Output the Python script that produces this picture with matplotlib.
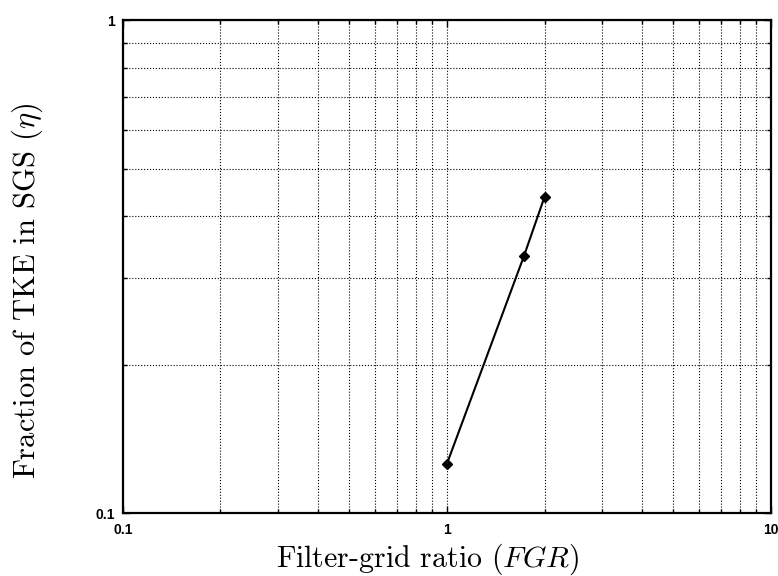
import matplotlib

matplotlib.use("Agg")
import matplotlib.pyplot as plt
from matplotlib.ticker import LogLocator, NullFormatter, FixedLocator, FixedFormatter

# filter-grid ratio vs fraction of TKE in the subgrid scales
fgr = [1.0, 1.73, 2.0]
eta = [0.126, 0.333, 0.438]

x_ticks = [0.1, 1, 10]
x_tick_labels = ["0.1", "1", "10"]
y_ticks = [0.1, 1]
y_tick_labels = ["0.1", "1"]

plt.rcParams["mathtext.fontset"] = "cm"

fig = plt.figure(figsize=(7.78, 5.76), dpi=100)
ax = fig.add_axes([0.158, 0.109, 0.833, 0.856])

ax.plot(fgr, eta, color="black", linewidth=1.5, marker="D", markersize=5)

ax.set_xscale("log")
ax.set_yscale("log")
ax.set_xlim(0.1, 10)
ax.set_ylim(0.1, 1)

ax.xaxis.set_major_locator(FixedLocator(x_ticks))
ax.xaxis.set_major_formatter(FixedFormatter(x_tick_labels))
ax.yaxis.set_major_locator(FixedLocator(y_ticks))
ax.yaxis.set_major_formatter(FixedFormatter(y_tick_labels))
for axis in (ax.xaxis, ax.yaxis):
    axis.set_minor_locator(LogLocator(base=10, subs=range(2, 10)))
    axis.set_minor_formatter(NullFormatter())

ax.tick_params(which="both", direction="in", top=True, right=True, width=1.0)
ax.tick_params(which="major", length=5)
ax.tick_params(which="minor", length=3)
for lab in ax.get_xticklabels() + ax.get_yticklabels():
    lab.set_fontweight("bold")
    lab.set_fontsize(10)
    lab.set_fontfamily("Liberation Sans")
ax.tick_params(axis="x", pad=7)
ax.tick_params(axis="y", pad=6)

ax.grid(True, which="both", linestyle=":", color="black", linewidth=0.8)

for spine in ax.spines.values():
    spine.set_linewidth(1.6)

ax.set_xlabel(r"Filter-grid ratio ($FGR$)", fontsize=21.5, family="cmr10")
ax.set_ylabel(r"Fraction of TKE in SGS ($\eta$)", fontsize=22, family="cmr10")
ax.xaxis.set_label_coords(0.47, -0.058)
ax.yaxis.set_label_coords(-0.12, 0.452)

fig.savefig("out.png")
